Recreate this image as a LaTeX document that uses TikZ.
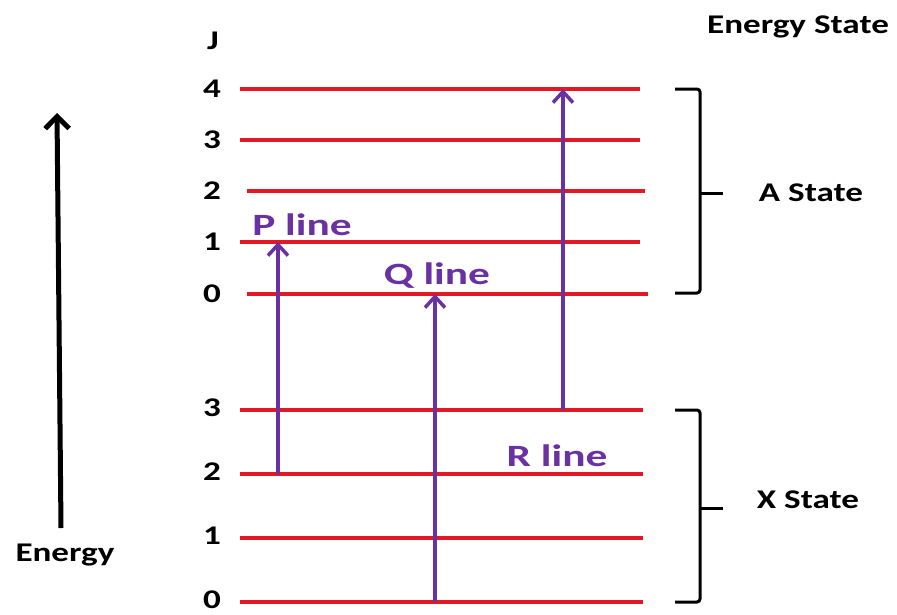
\documentclass[tikz,border=0pt]{standalone}
\usepackage{fontspec}
\setmainfont{Carlito}
\usetikzlibrary{arrows.meta}
\definecolor{levelred}{RGB}{228,24,36}
\definecolor{transpurple}{RGB}{106,50,160}

\begin{document}
\begin{tikzpicture}[x=1pt,y=-1pt,
  lbl/.style={font=\fontsize{27}{30}\selectfont\bfseries, xscale=1.3},
  linelbl/.style={font=\fontsize{31}{34}\selectfont\bfseries, text=transpurple, xscale=1.4},
  level/.style={levelred, line width=4pt},
  trans/.style={transpurple, line width=3.5pt, -{Straight Barb[length=11pt,width=20pt,line width=3.5pt]}},
  brace/.style={line width=3pt, rounded corners=3pt}]
\useasboundingbox (0,0) rectangle (897,614);
% upper (A) state levels
\foreach \j/\y/\xa/\xb in {4/89/240/640, 3/140/240/640, 2/191/247/645, 1/242/240/640, 0/294/247/648} {
  \coordinate (aL\j) at (\xa,\y);
  \coordinate (aR\j) at (\xb,\y);
  \draw[level] (aL\j) -- (aR\j);
  \node[lbl] (aJ\j) at (212,\y) {\j};
}
% lower (X) state levels
\foreach \j/\y in {3/410, 2/474, 1/538, 0/602} {
  \coordinate (xL\j) at (240,\y);
  \coordinate (xR\j) at (643,\y);
  \draw[level] (xL\j) -- (xR\j);
  \node[lbl, inner sep=1pt] (xJ\j) at (212,\y-2) {\j};
}
\node[lbl] (jhead) at (213,41) {J};
% transitions
\coordinate (pfrom) at (278,474);
\coordinate (pto) at (278,242);
\coordinate (qfrom) at (435,602);
\coordinate (qto) at (435,294);
\coordinate (rfrom) at (563,410);
\coordinate (rto) at (563,89);
\draw[trans] (pfrom) -- (pto);
\draw[trans] (qfrom) -- (qto);
\draw[trans] (rfrom) -- (rto);
\node[linelbl] (plbl) at (302,225) {P line};
\node[linelbl] (qlbl) at (437,276) {Q line};
\node[linelbl] (rlbl) at (557,456) {R line};
% brackets for the two states
\draw[brace] (675,89) -- (700,89) -- (700,293) -- (675,293);
\draw[line width=3pt] (700,193) -- (723,193);
\draw[brace] (675,410) -- (700,410) -- (700,602) -- (675,602);
\draw[line width=3pt] (700,508) -- (723,508);
\node[lbl] (astate) at (811,193) {A State};
\node[lbl] (xstate) at (808,500) {X State};
\node[lbl] (eshead) at (798,27) {Energy State};
% energy axis
\coordinate (efoot) at (61,528);
\coordinate (etop) at (57,113);
\draw[line width=5pt, -{Straight Barb[length=12pt,width=24pt,line width=5pt]}] (efoot) -- (etop);
\node[lbl] (elbl) at (65,555) {Energy};
\end{tikzpicture}
\end{document}
